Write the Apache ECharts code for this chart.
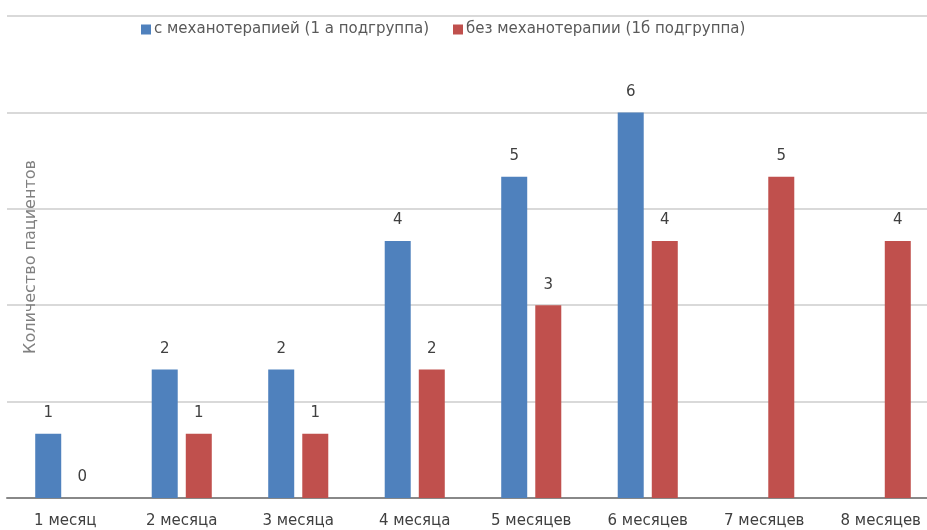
<!DOCTYPE html>
<html>
<head>
<meta charset="utf-8">
<script src="https://cdn.jsdelivr.net/npm/echarts@6/dist/echarts.min.js"></script>
<style>
  html, body { margin: 0; padding: 0; background: #fff; }
  #chart { width: 927px; height: 530px; }
</style>
</head>
<body>
<div id="chart"></div>
<script>
// Months after treatment
const categories = ['1 месяц', '2 месяца', '3 месяца', '4 месяца', '5 месяцев', '6 месяцев', '7 месяцев', '8 месяцев'];
// Patients with mechanotherapy (subgroup 1a)
const withMechano = [1, 2, 2, 4, 5, 6, null, null];
// Patients without mechanotherapy (subgroup 1b)
const withoutMechano = [0, 1, 1, 2, 3, 4, 5, 4];
const seriesNames = ['с механотерапией (1 а подгруппа)', 'без механотерапии (1б подгруппа)'];
const yAxisTitle = 'Количество пациентов';

const FONT = 'DejaVu Sans';
const chart = echarts.init(document.getElementById('chart'), null, { renderer: 'canvas' });

const labelStyle = {
  show: true,
  position: 'top',
  distance: 13,
  color: '#404040',
  fontFamily: FONT,
  fontSize: 15
};

chart.setOption({
  animation: false,
  backgroundColor: '#ffffff',
  legend: {
    left: 136,
    top: 17,
    itemWidth: 10,
    itemHeight: 10,
    itemGap: 24,
    icon: 'rect',
    textStyle: { color: '#595959', fontFamily: FONT, fontSize: 15, padding: [0, 0, 0, -2] },
    data: seriesNames
  },
  // plot area runs slightly past the right edge of the canvas
  grid: { left: 7, width: 932, top: 16, bottom: 32, containLabel: false, outerBoundsMode: 'none' },
  xAxis: {
    type: 'category',
    data: categories,
    axisLine: { show: true, lineStyle: { color: '#888888', width: 2 } },
    axisTick: { show: false },
    axisLabel: { color: '#404040', fontFamily: FONT, fontSize: 15, margin: 16, interval: 0 }
  },
  yAxis: {
    type: 'value',
    min: 0,
    max: 7.5,
    interval: 1.5,
    name: yAxisTitle,
    nameLocation: 'middle',
    nameGap: -32,
    nameRotate: 90,
    nameTextStyle: { color: '#808080', fontFamily: FONT, fontSize: 16 },
    axisLine: { show: false },
    axisTick: { show: false },
    axisLabel: { show: false },
    splitLine: { show: true, lineStyle: { color: '#d9d9d9', width: 2 } }
  },
  series: [
    {
      name: seriesNames[0],
      type: 'bar',
      data: withMechano,
      barWidth: 26,
      barGap: '31%',
      itemStyle: { color: '#4F81BD' },
      label: labelStyle
    },
    {
      name: seriesNames[1],
      type: 'bar',
      data: withoutMechano,
      barWidth: 26,
      barGap: '31%',
      itemStyle: { color: '#C0504D' },
      label: labelStyle
    }
  ]
});
</script>
</body>
</html>
